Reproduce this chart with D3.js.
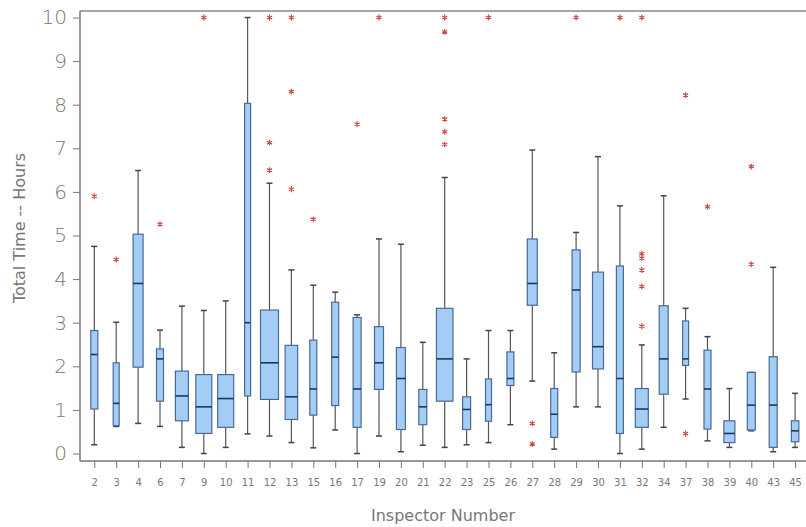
<!DOCTYPE html>
<html>
<head>
<meta charset="utf-8">
<script src="https://cdn.jsdelivr.net/npm/d3@7"></script>
<style>
	body { margin: 0; background: #fff; }
	.axis text { font-family: "DejaVu Sans", sans-serif; fill: #777; }
	.title { font-family: "DejaVu Sans", sans-serif; fill: #777; font-size: 16px; }
</style>
</head>
<body>
<div id="chart"></div>
<script>
// inspectors and their box statistics (hours)
var inspectors = ["2","3","4","6","7","9","10","11","12","13","15","16","17","19","20","21","22","23","25","26","27","28","29","30","31","32","34","37","38","39","40","43","45"];
var whiskerLow  = [0.20,0.62,0.69,0.62,0.14,0.00,0.14,0.45,0.40,0.25,0.13,0.54,0.00,0.40,0.04,0.19,0.14,0.20,0.25,0.66,1.66,0.10,1.07,1.07,0.00,0.10,0.60,1.25,0.29,0.14,0.52,0.04,0.14];
var q1          = [1.02,0.64,1.98,1.20,0.75,0.46,0.60,1.32,1.24,0.78,0.88,1.10,0.60,1.47,0.55,0.66,1.20,0.55,0.74,1.56,3.40,0.37,1.87,1.94,0.46,0.60,1.36,2.02,0.56,0.25,0.54,0.14,0.27];
var median      = [2.27,1.15,3.90,2.17,1.32,1.07,1.26,3.00,2.08,1.30,1.48,2.21,1.48,2.08,1.72,1.07,2.17,1.01,1.12,1.72,3.90,0.90,3.75,2.45,1.72,1.02,2.17,2.17,1.48,0.46,1.11,1.11,0.52];
var q3          = [2.82,2.08,5.03,2.40,1.89,1.81,1.81,8.03,3.29,2.48,2.60,3.47,3.12,2.91,2.43,1.47,3.33,1.30,1.71,2.33,4.92,1.49,4.67,4.16,4.30,1.49,3.39,3.04,2.37,0.75,1.86,2.22,0.75];
var whiskerHigh = [4.75,3.01,6.49,2.83,3.38,3.28,3.50,10.0,6.20,4.21,3.86,3.70,3.18,4.92,4.80,2.55,6.33,2.17,2.82,2.82,6.96,2.31,5.07,6.81,5.68,2.49,5.91,3.33,2.68,1.49,1.86,4.27,1.38];
// relative group size (drives box width)
var groupSize   = [7,6,10,7,13,16,16,6,18,12.5,7,7,8,9,9,8,16.5,8,6,7,10,7,8,11,7,13,9,6,7,11,8,8,7.5];
// outliers as [inspector, hours]
var outliers = [
	["2",5.9],["3",4.45],["6",5.26],["9",10],
	["12",10],["12",7.13],["12",6.5],
	["13",10],["13",8.3],["13",6.06],
	["15",5.37],["17",7.55],["19",10],
	["22",10],["22",9.67],["22",7.67],["22",7.38],["22",7.09],
	["25",10],["27",0.69],["27",0.22],["29",10],["31",10],
	["32",10],["32",4.58],["32",4.48],["32",4.21],["32",3.83],["32",2.92],
	["37",8.22],["37",0.46],["38",5.66],["40",6.58],["40",4.34]
];
var yTicks = [0,1,2,3,4,5,6,7,8,9,10];

var W = 806, H = 527;
var frame = {left: 80, top: 11, right: 812, bottom: 461};

var svg = d3.select("#chart").append("svg")
	.attr("width", W)
	.attr("height", H);

var x = d3.scalePoint().domain(inspectors).range([94.3, 795.1]);
var y = d3.scaleLinear().domain([0, 10]).range([453.5, 17.5]);
var bw = d3.scaleLinear().domain([0, 1]).range([0, 1]);

// frame top line
svg.append("line")
	.attr("x1", frame.left).attr("x2", frame.right)
	.attr("y1", frame.top).attr("y2", frame.top)
	.attr("stroke", "#888").attr("stroke-width", 1.5);

// y axis
var yAxis = svg.append("g")
	.attr("class", "axis")
	.attr("transform", "translate(" + frame.left + ",0)")
	.call(d3.axisLeft(y).tickValues(yTicks).tickSize(7).tickPadding(6).tickFormat(d3.format("d")));
yAxis.select(".domain").attr("d", "M0," + frame.top + "V" + frame.bottom).attr("stroke", "#777").attr("stroke-width", 1.5);
yAxis.selectAll(".tick line").attr("stroke", "#777");
yAxis.selectAll("text").style("font-size", "20px").style("font-weight", "300");

// x axis
var xAxis = svg.append("g")
	.attr("class", "axis")
	.attr("transform", "translate(0," + frame.bottom + ")")
	.call(d3.axisBottom(x).tickSize(7).tickPadding(11));
xAxis.select(".domain").attr("d", "M" + frame.left + ",0H" + frame.right).attr("stroke", "#777").attr("stroke-width", 1.5);
xAxis.selectAll(".tick line").attr("stroke", "#777");
xAxis.selectAll("text").style("font-size", "10px");

// boxes
var rows = inspectors.map(function(d, i) {
	return {id: d, lo: whiskerLow[i], q1: q1[i], med: median[i], q3: q3[i], hi: whiskerHigh[i], w: bw(groupSize[i])};
});

var g = svg.append("g").selectAll("g").data(rows).enter().append("g");

// whiskers
g.append("line")
	.attr("x1", function(d) { return x(d.id); }).attr("x2", function(d) { return x(d.id); })
	.attr("y1", function(d) { return y(d.hi); }).attr("y2", function(d) { return y(d.q3); })
	.attr("stroke", "#555").attr("stroke-width", 1.2);
g.append("line")
	.attr("x1", function(d) { return x(d.id); }).attr("x2", function(d) { return x(d.id); })
	.attr("y1", function(d) { return y(d.q1); }).attr("y2", function(d) { return y(d.lo); })
	.attr("stroke", "#555").attr("stroke-width", 1.2);
// caps
["hi", "lo"].forEach(function(k) {
	g.append("line")
		.attr("x1", function(d) { return x(d.id) - 3; }).attr("x2", function(d) { return x(d.id) + 3; })
		.attr("y1", function(d) { return y(d[k]); }).attr("y2", function(d) { return y(d[k]); })
		.attr("stroke", "#444").attr("stroke-width", 1.5);
});

g.append("rect")
	.attr("x", function(d) { return x(d.id) - d.w / 2; })
	.attr("width", function(d) { return d.w; })
	.attr("y", function(d) { return y(d.q3); })
	.attr("height", function(d) { return y(d.q1) - y(d.q3); })
	.attr("fill", "#a3cdf5")
	.attr("stroke", "#4a6a96")
	.attr("stroke-width", 1.2);

g.append("line")
	.attr("x1", function(d) { return x(d.id) - d.w / 2; }).attr("x2", function(d) { return x(d.id) + d.w / 2; })
	.attr("y1", function(d) { return y(d.med); }).attr("y2", function(d) { return y(d.med); })
	.attr("stroke", "#22365a").attr("stroke-width", 1.6);

// outliers
svg.append("g").selectAll("path").data(outliers).enter().append("path")
	.attr("transform", function(d) { return "translate(" + x(d[0]) + "," + y(d[1]) + ")"; })
	.attr("d", d3.symbol(d3.symbolAsterisk, 24))
	.attr("fill", "none")
	.attr("stroke", "#cc4a4a")
	.attr("stroke-width", 1.2);

// titles
svg.append("text")
	.attr("class", "title")
	.attr("text-anchor", "middle")
	.attr("x", 443).attr("y", 521)
	.text("Inspector Number");

svg.append("text")
	.attr("class", "title")
	.attr("text-anchor", "middle")
	.attr("transform", "translate(25,228) rotate(-90)")
	.text("Total Time -- Hours");
</script>
</body>
</html>
